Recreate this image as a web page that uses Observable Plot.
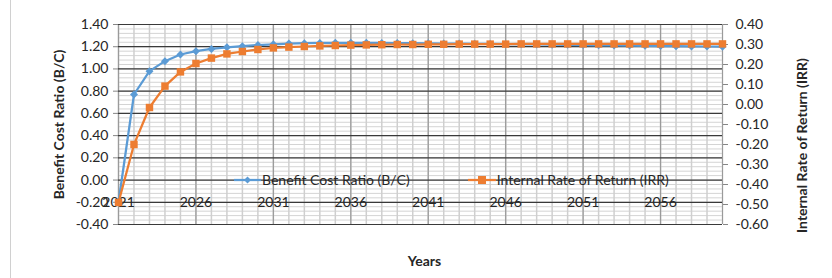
<!DOCTYPE html>
<html>
<head>
<meta charset="utf-8">
<script src="https://cdn.jsdelivr.net/npm/d3@7"></script>
<script src="https://cdn.jsdelivr.net/npm/@observablehq/plot@0.6"></script>
<style>
  html, body { margin: 0; padding: 0; background: #fff; }
  #wrap { position: relative; width: 832px; height: 278px; overflow: hidden; font-family: Lato, "Open Sans", sans-serif; }
  #border { position: absolute; left: 10px; top: 0; width: 0; height: 278px; border-left: 1px solid #d0d0d0; }
  #legend { position: absolute; top: 171px; left: 234px; display: flex; gap: 8px; font-size: 14px; color: #262626; white-space: nowrap; }
  .item { display: flex; align-items: center; }
  .item svg { margin-right: 1px; }
</style>
</head>
<body>
<div id="wrap"><div id="border"></div></div>
<script>
const years = [2021,2022,2023,2024,2025,2026,2027,2028,2029,2030,2031,2032,2033,2034,2035,2036,2037,2038,2039,2040,2041,2042,2043,2044,2045,2046,2047,2048,2049,2050,2051,2052,2053,2054,2055,2056,2057,2058,2059,2060];
const bcValues = [-0.20,0.77,0.98,1.07,1.13,1.16,1.18,1.195,1.205,1.215,1.222,1.228,1.232,1.234,1.235,1.235,1.235,1.234,1.233,1.232,1.231,1.229,1.228,1.226,1.225,1.223,1.222,1.220,1.218,1.217,1.215,1.213,1.212,1.210,1.208,1.206,1.205,1.203,1.202,1.200];
const irrValues = [-0.49,-0.20,-0.015,0.092,0.163,0.205,0.232,0.253,0.265,0.275,0.283,0.287,0.290,0.293,0.295,0.297,0.298,0.299,0.300,0.300,0.301,0.301,0.302,0.302,0.302,0.302,0.303,0.303,0.303,0.303,0.303,0.303,0.303,0.303,0.303,0.303,0.303,0.303,0.303,0.303];
const leftTicks = [-0.40,-0.20,0.00,0.20,0.40,0.60,0.80,1.00,1.20,1.40];
const rightTicks = [-0.60,-0.50,-0.40,-0.30,-0.20,-0.10,0.00,0.10,0.20,0.30,0.40];
const xTickYears = [2021,2026,2031,2036,2041,2046,2051,2056];
const seriesNames = ["Benefit Cost Ratio (B/C)", "Internal Rate of Return (IRR)"];
const leftTitle = "Benefit Cost Ratio (B/C)";
const rightTitle = "Internal Rate of Return (IRR)";
const xTitle = "Years";

const BLUE = "#5B9BD5", ORANGE = "#ED7D31";
// secondary axis mapping: right [-0.6,0.4] onto left [-0.4,1.4]
const toLeft = v => -0.4 + (v + 0.6) * 1.8;
const fromLeft = v => (v + 0.4) / 1.8 - 0.6;
const fmt = v => { const r = Math.round(v * 100) / 100; return (Math.abs(r) < 1e-9 ? 0 : r).toFixed(2); };

const data = years.map((y, i) => ({year: y, bc: bcValues[i], irr: toLeft(irrValues[i])}));
const minor = d3.range(-0.4, 1.4001, 0.04);

const chart = Plot.plot({
  width: 832, height: 278,
  marginLeft: 118, marginRight: 110, marginTop: 24, marginBottom: 54,
  style: {fontFamily: "Lato, 'Open Sans', sans-serif", fontSize: "14px", color: "#262626", background: "transparent", overflow: "visible"},
  x: {domain: [2021, 2060], axis: null},
  y: {domain: [-0.4, 1.4], axis: null},
  marks: [
    Plot.ruleY(minor, {stroke: "#d4d4d4", strokeWidth: 1}),
    Plot.ruleX(years, {stroke: "#cfcfcf", strokeWidth: 1.5}),
    Plot.ruleX(xTickYears, {stroke: "#9a9a9a", strokeWidth: 1.2}),
    Plot.ruleX([2060], {stroke: "#9a9a9a", strokeWidth: 1}),
    Plot.ruleY(leftTicks, {stroke: "#3a3a3a", strokeWidth: 1.2}),
    Plot.axisY(leftTicks, {anchor: "left", tickFormat: fmt, tickSize: 5, tickPadding: 5, stroke: "#868686", fontSize: 14, fill: "#262626", label: null}),
    Plot.axisY(rightTicks.map(toLeft), {anchor: "right", tickFormat: d => fmt(fromLeft(d)), tickSize: 5, tickPadding: 8, stroke: "#868686", fontSize: 14, fill: "#262626", label: null}),
    Plot.text(xTickYears, {x: d => d, y: -0.2, text: d => String(d), fontSize: 14, fill: "#262626"}),
    Plot.line(data, {x: "year", y: "bc", stroke: BLUE, strokeWidth: 2.25}),
    Plot.dot(data, {x: "year", y: "bc", symbol: "diamond2", r: 3.6, fill: BLUE, stroke: null}),
    Plot.line(data, {x: "year", y: "irr", stroke: ORANGE, strokeWidth: 2.25}),
    Plot.dot(data, {x: "year", y: "irr", symbol: "square", r: 4.2, fill: ORANGE, stroke: null}),
    Plot.text([leftTitle], {frameAnchor: "left", textAnchor: "middle", lineAnchor: "middle", dx: -59, rotate: -90, fontWeight: "bold", fontSize: 14, fill: "#262626"}),
    Plot.text([rightTitle], {frameAnchor: "right", textAnchor: "middle", lineAnchor: "middle", dx: 80, dy: 21, rotate: -90, fontWeight: "bold", fontSize: 14, fill: "#262626"}),
    Plot.text([xTitle], {frameAnchor: "bottom", dx: 4, dy: 41, fontWeight: "bold", fontSize: 14, fill: "#262626"})
  ]
});
const wrap = document.getElementById("wrap");
chart.style.position = "absolute";
chart.style.left = "0px";
chart.style.top = "0px";
wrap.appendChild(chart);

const legend = document.createElement("div");
legend.id = "legend";
const blueIcon = `<svg width="27" height="10"><line x1="0" y1="5" x2="27" y2="5" stroke="${BLUE}" stroke-width="2.25"/><path d="M13.5 1.5 L17 5 L13.5 8.5 L10 5 Z" fill="${BLUE}"/></svg>`;
const orangeIcon = `<svg width="28" height="10"><line x1="0" y1="5" x2="28" y2="5" stroke="${ORANGE}" stroke-width="2.25"/><rect x="10" y="1" width="8" height="8" fill="${ORANGE}"/></svg>`;
legend.innerHTML = `<div class="item">${blueIcon}<span>${seriesNames[0]}</span></div><div class="item" style="margin-left:50px">${orangeIcon}<span>${seriesNames[1]}</span></div>`;
wrap.appendChild(legend);
</script>
</body>
</html>
